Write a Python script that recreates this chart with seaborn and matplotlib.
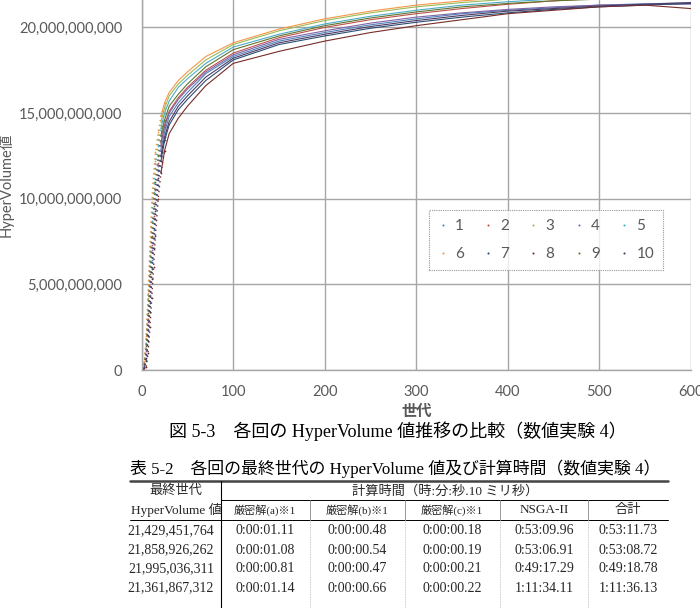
import numpy as np
import pandas as pd
import matplotlib
matplotlib.use("Agg")
import matplotlib.pyplot as plt
from matplotlib.lines import Line2D
from matplotlib.ticker import FuncFormatter
import seaborn as sns

W, H = 700, 608

# generation checkpoints
generations = [1, 3, 5, 7, 9, 11, 13, 15, 18, 21, 25, 30, 40, 50, 70, 100,
               150, 200, 250, 300, 350, 400, 450, 500, 550, 600]

# HyperVolume values, in units of 1e9
run_1 = [0.04, 0.25, 0.9, 2.4, 4.4, 6.4, 8.2, 9.8, 11.6, 12.9, 13.9, 14.8, 15.6, 16.2, 17.3, 18.3,
         19.2, 19.7, 20.15, 20.5, 20.8, 21.0, 21.15, 21.3, 21.38, 21.43]
run_2 = [0.05, 0.3, 1.2, 3.0, 5.2, 7.3, 9.0, 10.5, 12.1, 13.3, 14.3, 15.1, 15.9, 16.5, 17.5, 18.5,
         19.4, 20.0, 20.45, 20.8, 21.1, 21.35, 21.55, 21.7, 21.8, 21.86]
run_3 = [0.1, 0.45, 1.8, 4.2, 6.7, 9.2, 11.0, 12.2, 13.5, 14.5, 15.3, 16.0, 16.7, 17.2, 18.1, 19.0,
         19.8, 20.4, 20.85, 21.2, 21.45, 21.65, 21.8, 21.9, 21.95, 22.0]
run_4 = [0.05, 0.3, 1.1, 2.8, 4.9, 7.0, 8.8, 10.3, 11.9, 13.2, 14.2, 15.0, 15.8, 16.4, 17.4, 18.4,
         19.3, 19.8, 20.25, 20.6, 20.85, 21.05, 21.2, 21.3, 21.35, 21.36]
run_5 = [0.1, 0.4, 1.6, 3.8, 6.3, 8.7, 10.4, 11.8, 13.1, 14.1, 15.0, 15.7, 16.5, 17.0, 17.9, 18.85,
         19.6, 20.2, 20.65, 21.0, 21.3, 21.5, 21.65, 21.75, 21.8, 21.85]
run_6 = [0.1, 0.5, 2.0, 4.5, 7.2, 9.8, 11.5, 12.7, 13.9, 14.8, 15.6, 16.2, 16.9, 17.4, 18.3, 19.1,
         19.9, 20.5, 20.95, 21.3, 21.55, 21.75, 21.9, 22.0, 22.05, 22.1]
run_7 = [0.02, 0.2, 0.5, 1.7, 3.4, 5.3, 7.1, 8.8, 10.8, 12.2, 13.4, 14.3, 15.2, 15.8, 16.9, 18.1,
         19.0, 19.5, 19.95, 20.3, 20.6, 20.85, 21.05, 21.2, 21.3, 21.4]
run_8 = [0.0, 0.1, 0.2, 1.0, 2.5, 4.2, 6.0, 7.8, 10.0, 11.5, 12.8, 13.8, 14.7, 15.4, 16.6, 17.9,
         18.6, 19.2, 19.7, 20.1, 20.45, 20.8, 21.0, 21.2, 21.3, 21.1]
run_9 = [0.05, 0.35, 1.4, 3.3, 5.6, 7.8, 9.6, 11.0, 12.5, 13.7, 14.6, 15.4, 16.1, 16.7, 17.7, 18.7,
         19.5, 20.1, 20.55, 20.9, 21.2, 21.4, 21.55, 21.65, 21.75, 21.8]
run_10 = [0.03, 0.2, 0.7, 2.0, 3.9, 5.9, 7.7, 9.3, 11.2, 12.5, 13.6, 14.5, 15.4, 16.0, 17.1, 18.2,
          19.1, 19.6, 20.05, 20.4, 20.7, 20.95, 21.1, 21.25, 21.35, 21.45]

runs = [run_1, run_2, run_3, run_4, run_5, run_6, run_7, run_8, run_9, run_10]
run_labels = ["1", "2", "3", "4", "5", "6", "7", "8", "9", "10"]
colors = ["#4F81BD", "#C0504D", "#9BBB59", "#8064A2", "#4BACC6",
          "#F79646", "#2C4D75", "#772C2A", "#5F7530", "#4D3B62"]

y_ticks = [0, 5e9, 10e9, 15e9, 20e9]
x_ticks = [0, 100, 200, 300, 400, 500, 600]

fig_caption = "図 5-3　各回の HyperVolume 値推移の比較（数値実験 4）"
table_caption = "表 5-2　各回の最終世代の HyperVolume 値及び計算時間（数値実験 4）"
hdr_top = ["最終世代", "計算時間（時:分:秒.10 ミリ秒）"]
hdr_cols = ["HyperVolume 値", "厳密解(a)※1", "厳密解(b)※1", "厳密解(c)※1", "NSGA-II", "合計"]
hv_final = ["21,429,451,764", "21,858,926,262", "21,995,036,311", "21,361,867,312"]
time_a = ["0:00:01.11", "0:00:01.08", "0:00:00.81", "0:00:01.14"]
time_b = ["0:00:00.48", "0:00:00.54", "0:00:00.47", "0:00:00.66"]
time_c = ["0:00:00.18", "0:00:00.19", "0:00:00.21", "0:00:00.22"]
time_nsga = ["0:53:09.96", "0:53:06.91", "0:49:17.29", "1:11:34.11"]
time_total = ["0:53:11.73", "0:53:08.72", "0:49:18.78", "1:11:36.13"]

# long-form table
rows = []
for lab, vals in zip(run_labels, runs):
    for g, v in zip(generations, vals):
        rows.append({"run": lab, "gen": g, "hv": v * 1e9})
df = pd.DataFrame(rows)
early = df[df["gen"] <= 25]
late = df[df["gen"] >= 21]

sns.set_style("white")
plt.rcParams["font.family"] = ["Lato", "Noto Sans CJK JP", "DejaVu Sans"]

SANS = ["Lato", "Noto Sans CJK JP", "DejaVu Sans"]
SERIF = ["Liberation Serif", "Noto Sans CJK JP", "DejaVu Sans"]
TXT = "#595959"
GRID = "#A6A6A6"

fig = plt.figure(figsize=(W / 100, H / 100), dpi=100)
ax = fig.add_axes([141.7 / W, 1 - 370 / H, (690.7 - 141.7) / W, 370 / H])

pal = dict(zip(run_labels, colors))
sns.lineplot(data=late, x="gen", y="hv", hue="run", palette=pal, linewidth=0.8,
             legend=False, ax=ax, estimator=None)
sns.lineplot(data=early, x="gen", y="hv", hue="run", palette=pal, linewidth=1.0,
             linestyle=(0, (1, 2.5)), legend=False, ax=ax, estimator=None,
             marker=".", markersize=2.5, markeredgewidth=0)

ax.set_xlim(0, 600)
ax.set_ylim(0, 21.6e9)
ax.set_xticks(x_ticks)
ax.set_yticks(y_ticks)
ax.yaxis.set_major_formatter(FuncFormatter(lambda v, p: f"{int(v):,}"))
ax.grid(True, color=GRID, linewidth=1.0)
for s in ["top", "right"]:
    ax.spines[s].set_visible(False)
for s in ["left", "bottom"]:
    ax.spines[s].set_color(GRID)
    ax.spines[s].set_linewidth(1.0)
ax.tick_params(axis="both", length=0, labelsize=10.5, labelcolor=TXT)
ax.tick_params(axis="x", pad=11)
ax.tick_params(axis="y", pad=14)
ax.set_xlabel("世代", fontsize=11, color=TXT, family=SANS, fontweight="bold", labelpad=4)
ax.set_ylabel("HyperVolume値", fontsize=10.5, color=TXT, family=SANS)
ax.yaxis.set_label_coords(-0.233, 0.5)

# legend: 2 rows of 5, order 1..5 / 6..10
handles = [Line2D([], [], linestyle="none", marker=".", markersize=3,
                  markeredgewidth=0, color=c) for c in colors]
order = [0, 5, 1, 6, 2, 7, 3, 8, 4, 9]
leg = ax.legend([handles[i] for i in order], [run_labels[i] for i in order],
                ncol=5, loc="lower left", mode="expand",
                bbox_to_anchor=(0.523, 0.270, 0.427, 0.165), borderaxespad=0,
                frameon=True, fancybox=False, fontsize=11, handlelength=0.6,
                handletextpad=0.5, columnspacing=1.0, labelspacing=0.9,
                borderpad=0.6)
for t in leg.get_texts():
    t.set_color(TXT)
frame = leg.get_frame()
frame.set_edgecolor("#7F7F7F")
frame.set_linestyle((0, (1, 1)))
frame.set_linewidth(0.8)


def px(x, y):
    return x / W, 1 - y / H


fig.text(*px(398, 431), fig_caption, ha="center", va="center", fontsize=13,
         family=SERIF, color="black")
fig.text(*px(395, 469), table_caption, ha="center", va="center", fontsize=12.2,
         family=SERIF, color="black")


# table rules
def hline(x0, x1, y, lw=0.8, color="black"):
    fig.add_artist(Line2D([x0 / W, x1 / W], [1 - y / H, 1 - y / H], lw=lw, color=color))


def vline(x, y0, y1, lw=0.8, color="black", ls="-"):
    fig.add_artist(Line2D([x / W, x / W], [1 - y0 / H, 1 - y1 / H], lw=lw, color=color, linestyle=ls))


hline(130, 668, 481, lw=1.8, color="#444444")
hline(221, 668, 500, lw=0.7)
hline(130, 668, 520, lw=0.7)
vline(221, 481, 608, lw=0.8)
col_edges = [221, 310, 405, 500, 588, 668]
for xe in col_edges[1:-1]:
    vline(xe, 500, 520, lw=0.6, color="#888888")
    vline(xe, 520, 608, lw=0.6, color="#BBBBBB", ls=(0, (1, 1)))

fig.text(*px(176, 491), hdr_top[0], ha="center", va="center", fontsize=9.5, family=SERIF)
fig.text(*px(445, 491), hdr_top[1], ha="center", va="center", fontsize=9.5, family=SERIF)
hdr_x = [176, 265, 357, 452, 544, 628]
for i, (xc, h) in enumerate(zip(hdr_x, hdr_cols)):
    fs = 8 if 1 <= i <= 3 else 9.5
    fig.text(*px(xc, 510), h, ha="center", va="center", fontsize=fs, family=SERIF)

row_y = [531, 550, 569, 588]
for r, y in enumerate(row_y):
    fig.text(*px(214, y), hv_final[r], ha="right", va="center", fontsize=10, family=SERIF)
    for xc, col in zip(hdr_x[1:], [time_a, time_b, time_c, time_nsga, time_total]):
        fig.text(*px(xc, y), col[r], ha="center", va="center", fontsize=10, family=SERIF)

fig.savefig("out.png", dpi=100)
